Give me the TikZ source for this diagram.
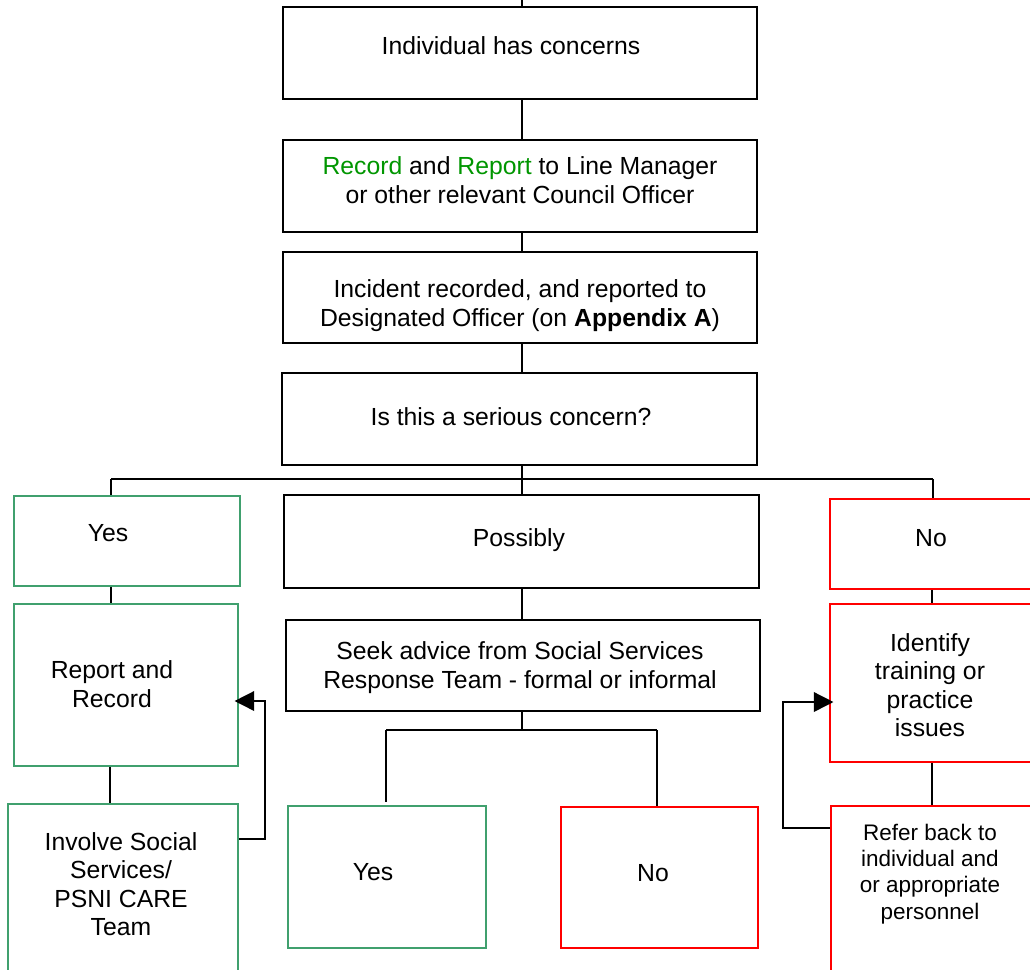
\documentclass[tikz,border=0pt]{standalone}
\usepackage{fontspec}
\setmainfont{Liberation Sans}
\usetikzlibrary{fit,arrows.meta}
\definecolor{boxgreen}{RGB}{64,160,110}
\definecolor{txtgreen}{RGB}{0,150,0}
\definecolor{boxred}{RGB}{255,0,0}
\tikzset{
  box/.style={draw=black, line width=1.1pt, inner sep=0pt},
  gbox/.style={draw=boxgreen, line width=1.1pt, inner sep=0pt},
  rbox/.style={draw=boxred, line width=1.1pt, inner sep=0pt},
  txt/.style={inner sep=0pt, align=center, font=\fontsize{17.6}{20.6}\selectfont},
  txtA/.style={inner sep=0pt, align=center, font=\fontsize{17.6}{20.3}\selectfont},
  txtB/.style={inner sep=0pt, align=center, font=\fontsize{16}{18.6}\selectfont},
  conn/.style={draw=black, line width=1.1pt},
  arr/.style={draw=black, line width=1.1pt, shorten >=-3pt, -{Triangle[length=14pt,width=14pt]}}
}
\begin{document}
\begin{tikzpicture}[x=0.025cm, y=-0.025cm]
\useasboundingbox (0,0) rectangle (1030,969);
\clip (0,0) rectangle (1030,969);
\fill[white] (0,0) rectangle (1030,969);
% helper coordinates
\coordinate (top) at (522,0);
\coordinate (cx) at (522,0);
\coordinate (hl) at (111,479);
\coordinate (hr) at (933,479);
\coordinate (sl) at (386,730);
\coordinate (sr) at (657,730);
\coordinate (sm) at (522,730);
\coordinate (xl) at (110,0);
\coordinate (xr) at (932,0);
\coordinate (yl) at (386,802);
\coordinate (fbL1) at (265,839);
\coordinate (fbL2) at (265,701);
\coordinate (fbR1) at (783,828);
\coordinate (fbR2) at (783,702);
% corner coordinates for boxes
\coordinate (b1a) at (283,7);   \coordinate (b1b) at (757,99);
\coordinate (b2a) at (283,140); \coordinate (b2b) at (757,232);
\coordinate (b3a) at (283,252); \coordinate (b3b) at (757,343);
\coordinate (b4a) at (282,373); \coordinate (b4b) at (757,465);
\coordinate (pa) at (284,495);  \coordinate (pb) at (759,588);
\coordinate (sa) at (286,620);  \coordinate (sb) at (760,711);
\coordinate (y1a) at (14,496);  \coordinate (y1b) at (240,586);
\coordinate (ra) at (14,604);   \coordinate (rb) at (238,766);
\coordinate (ia) at (8,804);    \coordinate (ib) at (238,990);
\coordinate (y2a) at (288,806); \coordinate (y2b) at (486,948);
\coordinate (n2a) at (561,807); \coordinate (n2b) at (758,948);
\coordinate (n1a) at (830,499); \coordinate (n1b) at (1045,589);
\coordinate (da) at (830,604);  \coordinate (db) at (1045,762);
\coordinate (fa) at (831,806);  \coordinate (fb) at (1045,990);
% boxes
\node[box, fit=(b1a)(b1b)] (b1) {};
\node[box, fit=(b2a)(b2b)] (b2) {};
\node[box, fit=(b3a)(b3b)] (b3) {};
\node[box, fit=(b4a)(b4b)] (b4) {};
\node[box, fit=(pa)(pb)] (pos) {};
\node[box, fit=(sa)(sb)] (seek) {};
\node[gbox, fit=(y1a)(y1b)] (yes1) {};
\node[gbox, fit=(ra)(rb)] (rr) {};
\node[gbox, fit=(ia)(ib)] (inv) {};
\node[gbox, fit=(y2a)(y2b)] (yes2) {};
\node[rbox, fit=(n2a)(n2b)] (no2) {};
\node[rbox, fit=(n1a)(n1b)] (no1) {};
\node[rbox, fit=(da)(db)] (idn) {};
\node[rbox, fit=(fa)(fb)] (ref) {};
% texts
\node[txt] (t1) at (511,46) {Individual has concerns};
\node[txt] (t2) at (520,180) {\textcolor{txtgreen}{Record} and \textcolor{txtgreen}{Report} to Line Manager\\or other relevant Council Officer};
\node[txt] (t3) at (520,306) {Incident recorded, and reported to\\Designated Officer (on \textbf{Appendix A})};
\node[txt] (t4) at (511,417) {Is this a serious concern?};
\node[txt] (t5) at (519,540) {Possibly};
\node[txt] (t6) at (520,668) {Seek advice from Social Services\\Response Team - formal or informal};
\node[txt] (t7) at (108,533) {Yes};
\node[txt] (t8) at (112,684) {Report and\\Record};
\node[txtA] (t9) at (121,884) {Involve Social\\Services/\\PSNI CARE\\Team};
\node[txt] (t10) at (373,872) {Yes};
\node[txt] (t11) at (653,873) {No};
\node[txt] (t12) at (931,538) {No};
\node[txtA] (t13) at (930,685) {Identify\\training or\\practice\\issues};
\node[txtB] (t14) at (930,874) {Refer back to\\individual and\\or appropriate\\personnel};
% connectors
\draw[conn] (top) -- (b1.north -| cx);
\draw[conn] (b1.south -| cx) -- (b2.north -| cx);
\draw[conn] (b2.south -| cx) -- (b3.north -| cx);
\draw[conn] (b3.south -| cx) -- (b4.north -| cx);
\draw[conn] (b4.south -| cx) -- (pos.north -| cx);
\draw[conn] (hl) -- (hr);
\draw[conn] (hl) -- (yes1.north -| hl);
\draw[conn] (hr) -- (no1.north -| hr);
\draw[conn] (pos.south -| cx) -- (seek.north -| cx);
\draw[conn] (yes1.south -| hl) -- (rr.north -| hl);
\draw[conn] (rr.south -| xl) -- (inv.north -| xl);
\draw[conn] (seek.south -| cx) -- (sm);
\draw[conn] (sl) -- (sr);
\draw[conn] (sl) -- (yl);
\draw[conn] (sr) -- (no2.north -| sr);
\draw[conn] (no1.south -| xr) -- (idn.north -| xr);
\draw[conn] (idn.south -| xr) -- (ref.north -| xr);
\draw[arr] (inv.east |- fbL1) -- (fbL1) -- (fbL2) -- (rr.east |- fbL2);
\draw[arr] (ref.west |- fbR1) -- (fbR1) -- (fbR2) -- (idn.west |- fbR2);
\end{tikzpicture}
\end{document}
